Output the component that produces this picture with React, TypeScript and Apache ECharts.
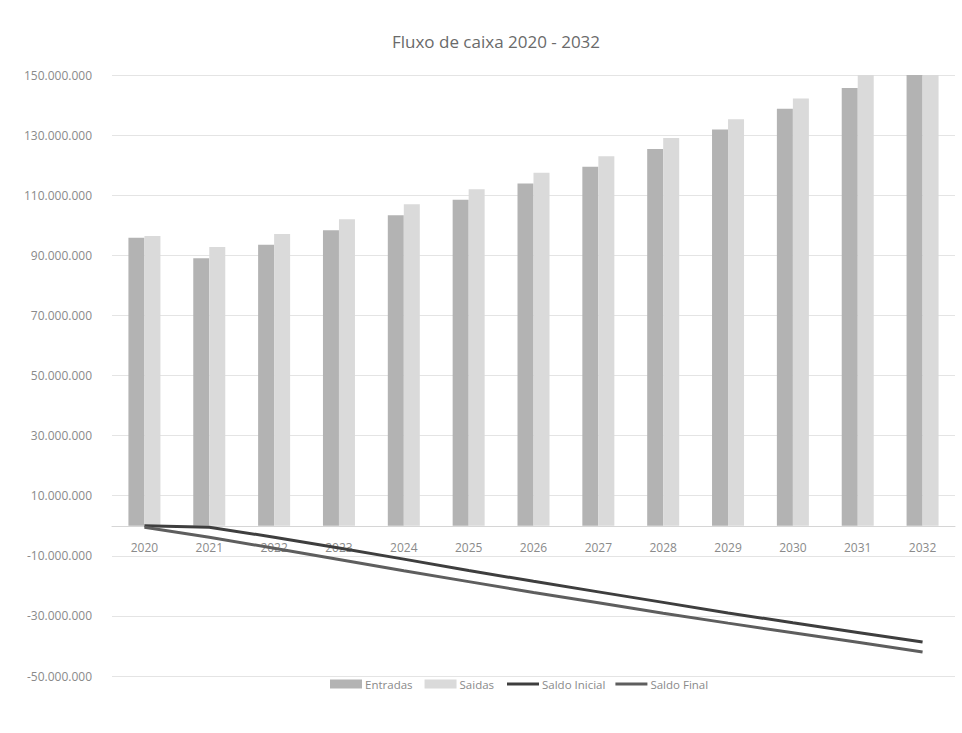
import React, { useEffect, useRef } from "react";
import * as echarts from "echarts";

const years = ["2020","2021","2022","2023","2024","2025","2026","2027","2028","2029","2030","2031","2032"];
const entradas = [95.8, 89.0, 93.5, 98.3, 103.3, 108.5, 113.9, 119.5, 125.4, 131.9, 138.8, 145.7, 153.0].map(v => v * 1e6);
const saidas = [96.4, 92.8, 97.1, 102.0, 107.0, 112.0, 117.5, 123.0, 129.0, 135.3, 142.2, 152.0, 157.0].map(v => v * 1e6);
const saldoInicial = [0, -0.5, -3.8, -7.4, -11.1, -14.9, -18.5, -22.0, -25.5, -29.0, -32.3, -35.5, -38.7].map(v => v * 1e6);
const saldoFinal = [-0.5, -3.8, -7.5, -11.2, -15.0, -18.6, -22.2, -25.6, -29.1, -32.4, -35.6, -38.8, -42.0].map(v => v * 1e6);

const Y_MIN = -50e6;
const Y_MAX = 150e6;
const Y_STEP = 20e6;

const fmt = (v: number) => {
  const s = Math.abs(Math.round(v)).toString().replace(/\B(?=(\d{3})+(?!\d))/g, ".");
  return (v < 0 ? "-" : "") + s;
};

const FONT = "'Open Sans', 'Noto Sans', sans-serif";
const TXT = "#8a8a8a";

const GRID_TOP = 75;
const GRID_BOTTOM = 57;
const H = 733;

export default function App() {
  const ref = useRef<HTMLDivElement>(null);
  useEffect(() => {
    if (!ref.current) return;
    const chart = echarts.init(ref.current, null, { renderer: "svg" });
    const gridH = H - GRID_TOP - GRID_BOTTOM;
    const zeroOffset = -gridH * (0 - Y_MIN) / (Y_MAX - Y_MIN);
    const legendText = { fontFamily: FONT, fontSize: 11.5, color: TXT, padding: [0, 0, 0, -2], lineHeight: 16 };
    chart.setOption({
      animation: false,
      backgroundColor: "#ffffff",
      title: {
        text: "Fluxo de caixa 2020 - 2032",
        left: 491,
        textAlign: "center",
        top: 28,
        textStyle: { fontFamily: FONT, fontSize: 17, fontWeight: "normal", color: "#6a6a6a" },
      },
      legend: [
        {
          bottom: 36,
          left: 325,
          itemGap: 12,
          itemWidth: 32,
          itemHeight: 9,
          textStyle: legendText,
          data: [
            { name: "Entradas", icon: "rect" },
            { name: "Saidas", icon: "rect" },
          ],
        },
        {
          bottom: 36,
          left: 502,
          itemGap: 10,
          itemWidth: 32,
          itemHeight: 3,
          textStyle: legendText,
          data: [
            { name: "Saldo Inicial", icon: "rect" },
            { name: "Saldo Final", icon: "rect" },
          ],
        },
      ],
      grid: { left: 112, right: 7, top: GRID_TOP, bottom: GRID_BOTTOM, containLabel: false },
      xAxis: {
        type: "category",
        data: years,
        offset: zeroOffset,
        axisLine: { onZero: false, lineStyle: { color: "#d6d6d6", width: 1 } },
        axisTick: { show: false },
        axisLabel: { fontFamily: FONT, fontSize: 12, color: TXT, margin: 16 },
        z: 1,
      },
      yAxis: {
        type: "value",
        min: Y_MIN,
        max: Y_MAX,
        interval: Y_STEP,
        axisLine: { show: false },
        axisTick: { show: false },
        splitLine: { lineStyle: { color: "#e4e4e4", width: 1 } },
        axisLabel: { fontFamily: FONT, fontSize: 12, color: TXT, margin: 20, formatter: fmt },
      },
      series: [
        {
          name: "Entradas",
          type: "bar",
          data: entradas,
          barWidth: 16,
          barGap: "0%",
          itemStyle: { color: "#b3b3b3" },
          z: 2,
        },
        {
          name: "Saidas",
          type: "bar",
          data: saidas,
          barWidth: 16,
          barGap: "0%",
          itemStyle: { color: "#dadada" },
          z: 2,
        },
        {
          name: "Saldo Inicial",
          type: "line",
          data: saldoInicial,
          symbol: "none",
          lineStyle: { color: "#3e3e3e", width: 3 },
          itemStyle: { color: "#3e3e3e" },
          z: 5,
        },
        {
          name: "Saldo Final",
          type: "line",
          data: saldoFinal,
          symbol: "none",
          lineStyle: { color: "#5e5e5e", width: 3 },
          itemStyle: { color: "#5e5e5e" },
          z: 5,
        },
      ],
    });
    return () => chart.dispose();
  }, []);
  return (
    <div
      ref={ref}
      style={{ position: "absolute", left: 0, top: 0, width: 962, height: 733, background: "#fff" }}
    />
  );
}
